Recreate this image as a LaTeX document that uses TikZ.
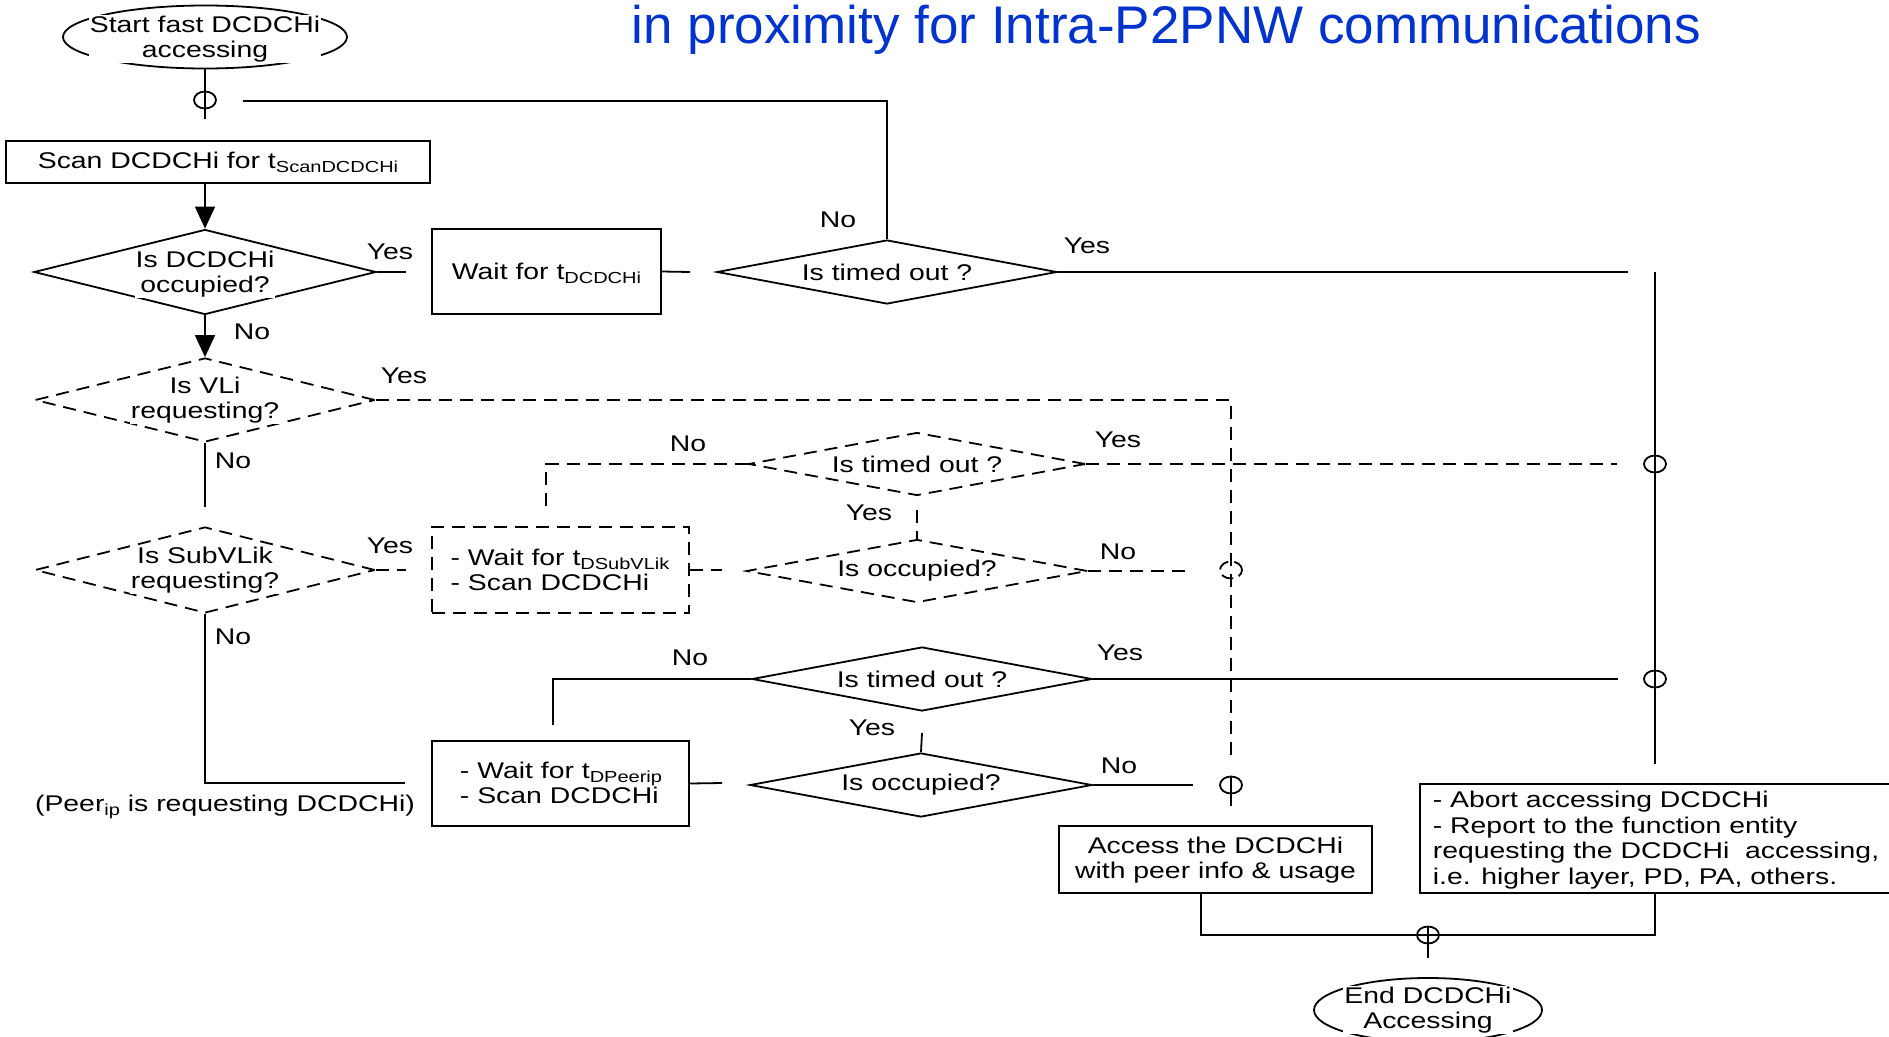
\documentclass[tikz,border=0pt]{standalone}
\usepackage{fontspec}
\setmainfont{Liberation Sans}[FakeStretch=1.25]
\newfontfamily\titlefont{Liberation Sans}
\usetikzlibrary{shapes.geometric,arrows.meta}
\definecolor{titleblue}{RGB}{0,51,204}
\newcommand\lowtxt[1]{\raisebox{-4pt}{\fontsize{16}{16}\selectfont #1}}
\begin{document}
\begin{tikzpicture}[x=1pt,y=-1pt, line width=1.8pt,
 every node/.style={font=\fontsize{22.7}{25.7}\selectfont, inner sep=0pt},
 box/.style={draw, rectangle},
 dl/.style={dash pattern=on 13pt off 8pt},
 dbox/.style={box, dl},
 dia/.style={draw, diamond, aspect=1},
 ddia/.style={dia, dl},
 txt/.style={fill=white, inner sep=1pt, align=center},
 junc/.style={draw, ellipse, minimum width=22pt, minimum height=17pt},
 arr/.style={-{Triangle[width=20pt,length=22pt]}},
]
\useasboundingbox (0,0) rectangle (1889,1036);
\clip (0,0) rectangle (1889,1036);

% title
\node[anchor=base west, font=\titlefont\fontsize{53}{60}\selectfont, text=titleblue] (title) at (631,43) {in proximity for Intra-P2PNW communications};

% shapes
\node[draw, ellipse, minimum width=284pt, minimum height=63pt] (start) at (205,37) {};
\node[junc] (j1) at (205,100) {};
\node[box, minimum width=424pt, minimum height=42pt] (scan) at (218,162) {};
\node[dia, minimum width=342pt, minimum height=85pt] (d1) at (205,272) {};
\node[box, minimum width=229pt, minimum height=85pt] (w1) at (546.5,271.5) {};
\node[dia, minimum width=340pt, minimum height=64pt] (to1) at (887,272) {};
\node[ddia, minimum width=340pt, minimum height=84pt] (d2) at (205,400) {};
\node[ddia, minimum width=337pt, minimum height=63pt] (to2) at (917,464) {};
\node[ddia, minimum width=340pt, minimum height=86pt] (d3) at (205,570) {};
\node[dbox, minimum width=257pt, minimum height=86pt] (w2) at (560.5,570) {};
\node[ddia, minimum width=341pt, minimum height=63pt] (o2) at (917,571) {};
\node[dia, minimum width=340pt, minimum height=64pt] (to3) at (922,679) {};
\node[dia, minimum width=342pt, minimum height=64pt] (o3) at (921,785) {};
\node[box, minimum width=257pt, minimum height=85pt] (w3) at (560.5,783.5) {};
\node[box, minimum width=313pt, minimum height=67pt] (acc) at (1215.5,859.5) {};
\node[box, minimum width=490pt, minimum height=109pt, anchor=west] (abort) at (1419,838.5) {};
\node[draw, ellipse, minimum width=228pt, minimum height=64pt] (end) at (1428,1010) {};
\node[junc] (ja) at (1655,464) {};
\node[junc] (jb) at (1655,679) {};
\node[junc, dash pattern=on 12pt off 6pt] (jc) at (1231,570) {};
\node[junc] (jd) at (1231,785) {};
\node[junc] (je) at (1428,935) {};

% coordinates
\coordinate (j1b) at (205,119);
\coordinate (t1) at (243,101);
\coordinate (t2) at (887,101);
\coordinate (c3) at (406,272);
\coordinate (c4) at (690,272);
\coordinate (c5) at (1628,272);
\coordinate (v1) at (1655,272);
\coordinate (v2) at (1655,764);
\coordinate (c8) at (1231,400);
\coordinate (c9) at (1231,755);
\coordinate (c10) at (1231,806);
\coordinate (c11) at (205,507);
\coordinate (c12) at (406,570);
\coordinate (c13) at (722,570);
\coordinate (c14) at (1189,571);
\coordinate (c15) at (917,510);
\coordinate (c16) at (546,464);
\coordinate (c17) at (546,507);
\coordinate (c18) at (1617,464);
\coordinate (c19) at (205,783);
\coordinate (c20) at (405,783);
\coordinate (c21) at (722,783);
\coordinate (c22) at (922,733);
\coordinate (c23) at (553,679);
\coordinate (c24) at (553,725);
\coordinate (c25) at (1618,679);
\coordinate (c26) at (1193,785);
\coordinate (c27) at (1201,935);
\coordinate (c28) at (1655,935);
\coordinate (c29) at (1428,958);

% connectors
\draw (start.south) -- (j1b);
\draw (t1) -- (t2) -- (to1.north);
\draw[arr] (scan.south -| d1.north) -- (d1.north);
\draw (d1.east) -- (c3);
\draw (w1.east) -- (c4);
\draw (to1.east) -- (c5);
\draw (v1) -- (v2);
\draw[arr] (d1.south) -- (d2.north);
\draw[dl] (d2.east) -- (c8) -- (c9);
\draw (jd.north) -- (c10);
\draw (d2.south) -- (c11);
\draw[dl] (d3.east) -- (c12);
\draw[dl] (w2.east) -- (c13);
\draw[dl] (o2.east) -- (c14);
\draw[dl] (c15) -- (o2.north);
\draw[dl] (to2.west) -- (c16) -- (c17);
\draw[dl] (to2.east) -- (c18);
\draw (d3.south) -- (c19) -- (c20);
\draw (w3.east) -- (c21);
\draw (c22) -- (o3.north);
\draw (to3.west) -- (c23) -- (c24);
\draw (to3.east) -- (c25);
\draw (o3.east) -- (c26);
\draw (acc.south -| c27) -- (c27) -- (c28) -- (abort.south -| c28);
\draw (je.north) -- (c29);

% texts
\node[txt] (tstart) at (205,39) {Start fast DCDCHi\\accessing};
\node (tscan) at (218,162) {Scan DCDCHi for t\lowtxt{ScanDCDCHi}};
\node[txt] (td1) at (205,274) {Is DCDCHi\\occupied?};
\node (tw1) at (546.5,273) {Wait for t\lowtxt{DCDCHi}};
\node[txt] (tto1) at (887,272) {Is timed out ?};
\node[txt] (td2) at (205,400) {Is VLi\\requesting?};
\node[txt] (tto2) at (917,464) {Is timed out ?};
\node[txt] (td3) at (205,570) {Is SubVLik\\requesting?};
\node[align=left] (tw2) at (560,570) {- Wait for t\lowtxt{DSubVLik}\\- Scan DCDCHi};
\node[txt] (to2t) at (917,571) {Is occupied?};
\node[txt] (tto3) at (922,679) {Is timed out ?};
\node[txt] (to3t) at (921,785) {Is occupied?};
\node[align=left] (tw3) at (561,783) {- Wait for t\lowtxt{DPeerip}\\- Scan DCDCHi};
\node[align=center] (tacc) at (1215.5,860) {Access the DCDCHi\\with peer info \& usage};
\node[align=left, anchor=west] (tab) at (1432,840) {- Abort accessing DCDCHi\\- Report to the function entity\\requesting the DCDCHi\ \ accessing,\\i.e. higher layer, PD, PA, others.};
\node[txt] (tend) at (1428,1010) {End DCDCHi\\Accessing};
\node (tpeer) at (225,807) {(Peer\lowtxt{ip} is requesting DCDCHi)};

% labels
\node (l1) at (390,252) {Yes};
\node (l2) at (838,220) {No};
\node (l3) at (1087,246) {Yes};
\node (l4) at (252,332) {No};
\node (l5) at (404,376) {Yes};
\node (l6) at (233,461) {No};
\node (l7) at (390,546) {Yes};
\node (l8) at (688,444) {No};
\node (l9) at (1118,440) {Yes};
\node (l10) at (869,513) {Yes};
\node (l11) at (1118,552) {No};
\node (l12) at (233,637) {No};
\node (l13) at (690,658) {No};
\node (l14) at (1120,653) {Yes};
\node (l15) at (872,728) {Yes};
\node (l16) at (1119,766) {No};
\end{tikzpicture}
\end{document}
